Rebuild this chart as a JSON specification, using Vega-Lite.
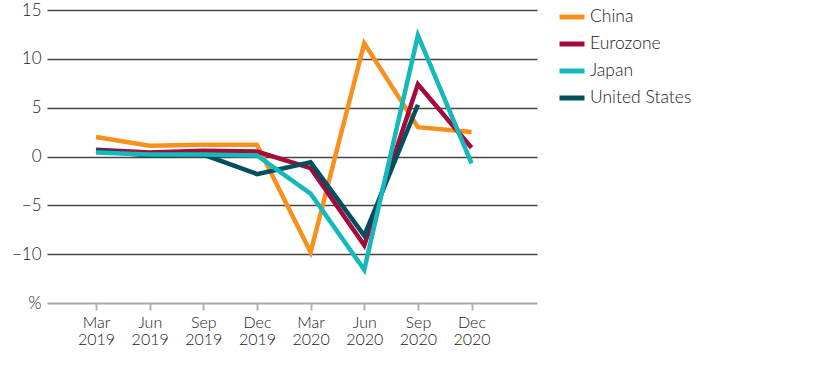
{
  "$schema": "https://vega.github.io/schema/vega-lite/v6.json",
  "autosize": {"type": "none"},
  "padding": {"left": 47, "top": 10, "right": 279, "bottom": 63},
  "width": 490,
  "height": 293,
  "config": {"view": {"stroke": null}, "font": "Lato"},
  "data": {
    "values": [
      {"q": 0, "series": "China", "value": 2.0},
      {"q": 1, "series": "China", "value": 1.1},
      {"q": 2, "series": "China", "value": 1.2},
      {"q": 3, "series": "China", "value": 1.2},
      {"q": 4, "series": "China", "value": -9.8},
      {"q": 5, "series": "China", "value": 11.6},
      {"q": 6, "series": "China", "value": 3.0},
      {"q": 7, "series": "China", "value": 2.5},
      {"q": 0, "series": "Eurozone", "value": 0.7},
      {"q": 1, "series": "Eurozone", "value": 0.4},
      {"q": 2, "series": "Eurozone", "value": 0.6},
      {"q": 3, "series": "Eurozone", "value": 0.5},
      {"q": 4, "series": "Eurozone", "value": -1.2},
      {"q": 5, "series": "Eurozone", "value": -9.1},
      {"q": 6, "series": "Eurozone", "value": 7.4},
      {"q": 7, "series": "Eurozone", "value": 0.9},
      {"q": 0, "series": "United States", "value": 0.6},
      {"q": 1, "series": "United States", "value": 0.1},
      {"q": 2, "series": "United States", "value": 0.2},
      {"q": 3, "series": "United States", "value": -1.8},
      {"q": 4, "series": "United States", "value": -0.6},
      {"q": 5, "series": "United States", "value": -8.1},
      {"q": 6, "series": "United States", "value": 5.3},
      {"q": 0, "series": "Japan", "value": 0.4},
      {"q": 1, "series": "Japan", "value": 0.2},
      {"q": 2, "series": "Japan", "value": 0.2},
      {"q": 3, "series": "Japan", "value": 0.1},
      {"q": 4, "series": "Japan", "value": -3.8},
      {"q": 5, "series": "Japan", "value": -11.6},
      {"q": 6, "series": "Japan", "value": 12.4},
      {"q": 7, "series": "Japan", "value": -0.7}
    ]
  },
  "mark": {"type": "line", "strokeWidth": 4.5, "strokeJoin": "miter"},
  "encoding": {
    "x": {
      "field": "q",
      "type": "quantitative",
      "scale": {"domain": [-0.914, 8.22], "nice": false, "zero": false},
      "axis": {
        "title": null,
        "values": [0, 1, 2, 3, 4, 5, 6, 7],
        "grid": false,
        "domain": false,
        "tickColor": "#b0b0b0",
        "tickWidth": 2,
        "tickSize": 7,
        "labelPadding": 4,
        "labelFontSize": 16,
        "labelFontWeight": 300,
        "labelLineHeight": 17,
        "labelColor": "#1a1a1a",
        "labelFont": "Lato",
        "labelExpr": "[['Mar','Jun','Sep','Dec','Mar','Jun','Sep','Dec'][datum.value], datum.value < 4 ? '2019' : '2020']"
      }
    },
    "y": {
      "field": "value",
      "type": "quantitative",
      "scale": {"domain": [-15, 15], "nice": false},
      "axis": {
        "title": null,
        "values": [-15, -10, -5, 0, 5, 10, 15],
        "domain": false,
        "ticks": false,
        "labelPadding": 6,
        "labelFontSize": 17,
        "labelFontWeight": 300,
        "labelColor": "#1a1a1a",
        "labelFont": "Lato",
        "gridColor": {"condition": {"test": "datum.value == -15", "value": "#a8a8a8"}, "value": "#444444"},
        "gridWidth": {"condition": {"test": "datum.value == -15", "value": 2}, "value": 1.5},
        "labelExpr": "datum.value == -15 ? '%' : replace(format(datum.value, 'd'), '-', '\u2212')"
      }
    },
    "color": {
      "field": "series",
      "type": "nominal",
      "scale": {
        "domain": ["China", "Eurozone", "Japan", "United States"],
        "range": ["#f7901e", "#a50a3c", "#14b9bb", "#03505d"]
      },
      "legend": {
        "title": null,
        "orient": "none",
        "legendX": 510,
        "legendY": -8,
        "symbolType": "stroke",
        "symbolStrokeWidth": 5,
        "symbolSize": 625,
        "labelFontSize": 17.5,
        "labelFontWeight": 300,
        "labelFont": "Lato",
        "labelColor": "#1a1a1a",
        "labelOffset": 3,
        "rowPadding": 2
      }
    }
  }
}
